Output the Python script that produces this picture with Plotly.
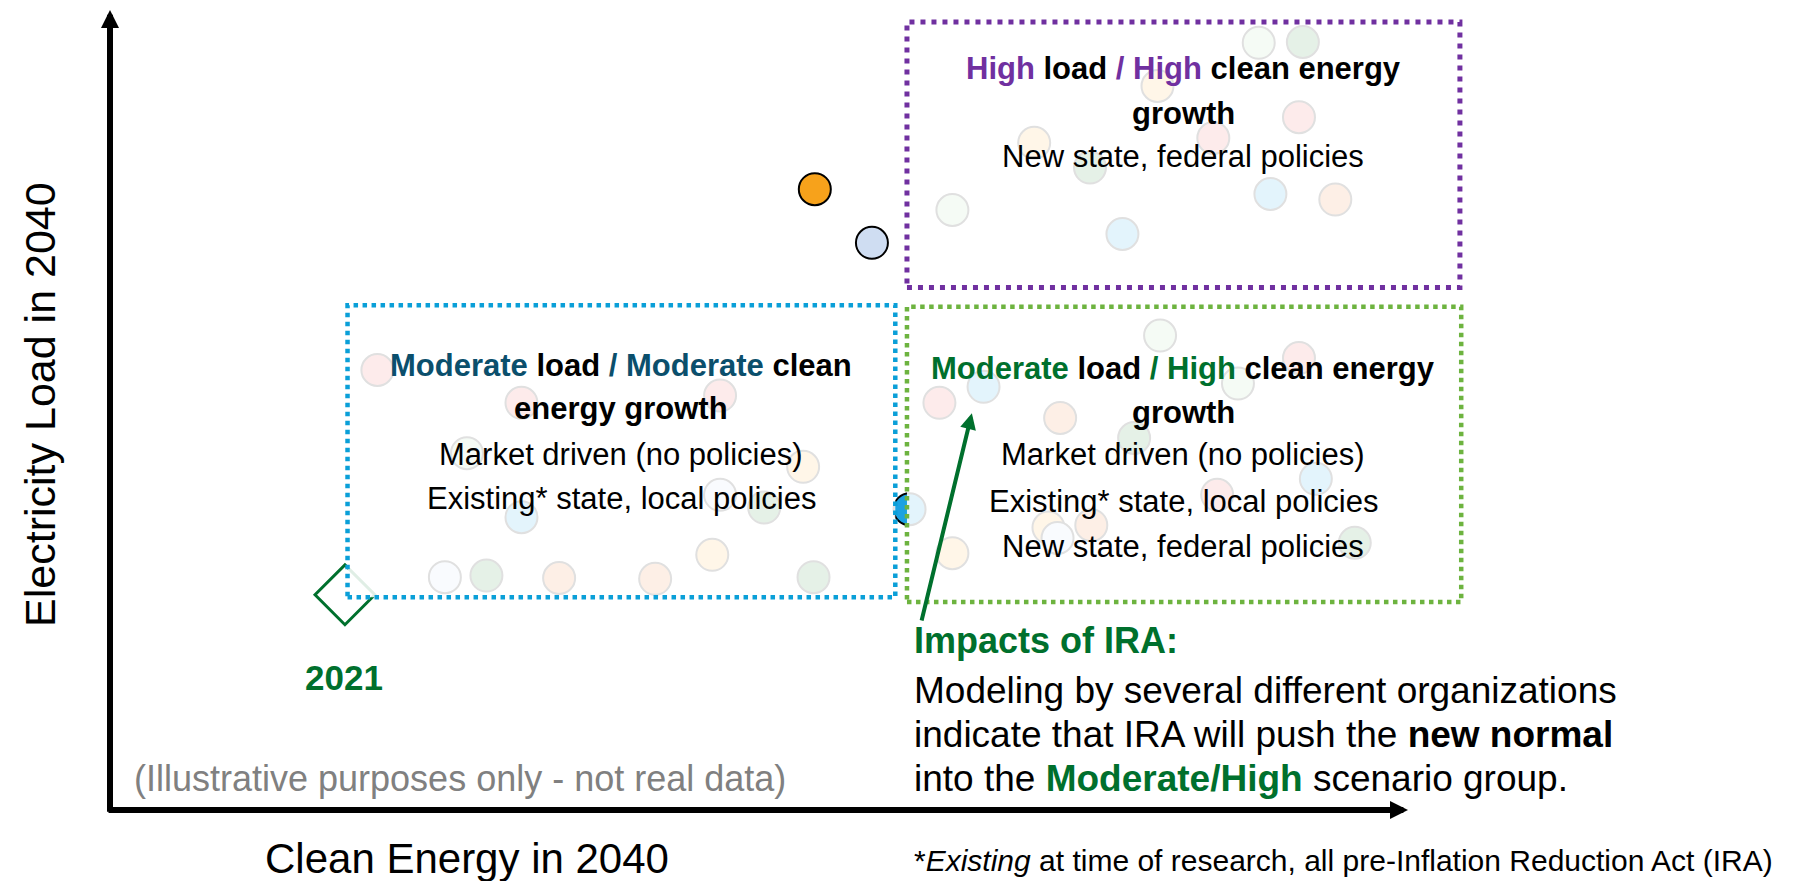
import plotly.graph_objects as go

# ---------------- data (illustrative index units: 0-100 on each axis) ----------------
# highlighted scenario points (outside the groups)
hl_x = [54.3, 58.7, 61.6]
hl_y = [77.6, 70.9, 37.6]
hl_color = ["orange", "lightblue", "blue"]

# background scenario points (faded by the group boxes)
bg_x = [88.5, 91.9, 80.7, 91.6, 85.0, 71.2, 75.5, 64.9, 89.4, 94.4, 78.0,
        80.9, 91.6, 67.3, 63.9, 86.9, 73.2, 78.9, 92.9, 85.3, 72.3, 75.6, 73.0, 64.9, 95.9,
        20.6, 31.7, 47.0, 27.5, 53.4, 31.7, 47.0, 50.4, 25.8, 29.0, 34.6, 42.0, 46.4, 54.2]
bg_y = [95.9, 96.0, 90.5, 86.6, 84.0, 83.4, 80.3, 75.0, 77.0, 76.3, 72.0,
        59.3, 56.5, 52.9, 50.9, 53.3, 49.0, 46.5, 41.4, 39.4, 35.3, 35.6, 34.0, 32.1, 33.4,
        55.0, 50.9, 51.8, 44.6, 42.9, 36.6, 39.4, 37.8, 29.1, 29.3, 29.0, 28.9, 31.9, 29.1]
bg_color = ["palegreen", "green", "gold", "red", "red", "gold", "green", "palegreen", "blue", "peach", "blue",
            "palegreen", "red", "blue", "red", "palegreen", "peach", "green", "blue", "red", "gold", "peach", "lightblue", "gold", "green",
            "red", "red", "red", "palegreen", "gold", "blue", "lightblue", "green", "lightblue", "green", "peach", "peach", "gold", "green"]

# 2021 starting point
start_x = [18.1]
start_y = [26.9]
start_label = ["2021"]

# scenario groups (boxes)
group_names = ["Moderate/Moderate", "Moderate/High", "High/High"]
group_x0 = [18.3, 61.4, 61.4]
group_x1 = [60.5, 104.1, 104.0]
group_y0 = [26.6, 26.0, 65.3]
group_y1 = [63.1, 62.9, 98.5]

# IRA shift arrow (from, to)
ira_from = (62.5, 23.5)
ira_to = (66.4, 49.6)

# ---------------- styles ----------------
PALETTE = {
    "orange": "#F7A21B", "lightblue": "#CFDDF2", "blue": "#1BA1E2", "green": "#2E8B3E",
    "palegreen": "#A9DBA9", "red": "#E85C5C", "gold": "#FBB040", "peach": "#ED7D31",
}
GROUP_STYLE = [
    dict(color="#0A9FD8", width=4.5, dash="dot"),
    dict(color="#6DB33F", width=4.5, dash="dot"),
    dict(color="#7030A0", width=5, dash="5px,6px"),
]
FONT = "Liberation Sans, Arial, sans-serif"
TEAL = "#0B4F6C"
DKGREEN = "#00702D"
PURPLE = "#7030A0"

fig = go.Figure()

fig.add_trace(go.Scatter(
    x=bg_x, y=bg_y, mode="markers", hoverinfo="skip",
    marker=dict(size=32, color=[PALETTE[c] for c in bg_color], line=dict(color="black", width=2)),
))
fig.add_trace(go.Scatter(
    x=hl_x, y=hl_y, mode="markers", hoverinfo="skip",
    marker=dict(size=32, color=[PALETTE[c] for c in hl_color], line=dict(color="black", width=2)),
))
fig.add_trace(go.Scatter(
    x=start_x, y=start_y, mode="markers", hoverinfo="skip",
    marker=dict(symbol="diamond", size=46, color="white", line=dict(color=DKGREEN, width=3)),
))

for i in range(len(group_names)):
    fig.add_shape(type="rect", xref="x", yref="y",
                  x0=group_x0[i], x1=group_x1[i], y0=group_y0[i], y1=group_y1[i],
                  fillcolor="rgba(255,255,255,0.88)", line=GROUP_STYLE[i], layer="above")

ann = []
# axes as arrows
ann.append(dict(x=0, y=100, ax=0, ay=-0.4, xref="x", yref="y", axref="x", ayref="y",
                text="", showarrow=True, arrowhead=2, arrowsize=0.6, arrowwidth=6, arrowcolor="black"))
ann.append(dict(x=100, y=0, ax=-0.23, ay=0, xref="x", yref="y", axref="x", ayref="y",
                text="", showarrow=True, arrowhead=2, arrowsize=0.6, arrowwidth=6, arrowcolor="black"))
# IRA arrow
ann.append(dict(x=ira_to[0], y=ira_to[1], ax=ira_from[0], ay=ira_from[1], xref="x", yref="y",
                axref="x", ayref="y", text="", showarrow=True, arrowhead=2, arrowsize=0.8,
                arrowwidth=4, arrowcolor=DKGREEN))

def txt(x, y, s, size=31, color="black", xanchor="center", angle=0):
    ann.append(dict(x=x, y=y, xref="x", yref="y", text=s, showarrow=False, xanchor=xanchor,
                    yanchor="middle", textangle=angle, font=dict(family=FONT, size=size, color=color)))

def c(s, col):
    return f"<span style='color:{col}'>{s}</span>"

# High / High box
txt(82.7, 92.75, "<b>" + c("High", PURPLE) + " load " + c("/ High", PURPLE) + " clean energy</b>")
txt(82.7, 87.1, "<b>growth</b>")
txt(82.7, 81.75, "New state, federal policies")
# Moderate / Moderate box
txt(39.4, 55.6, "<b>" + c("Moderate", TEAL) + " load " + c("/ Moderate", TEAL) + " clean</b>")
txt(39.4, 50.25, "<b>energy growth</b>")
txt(39.4, 44.5, "Market driven (no policies)")
txt(39.4, 39.0, "Existing* state, local policies")
# Moderate / High box
txt(82.7, 55.25, "<b>" + c("Moderate", DKGREEN) + " load " + c("/ High", DKGREEN) + " clean energy</b>")
txt(82.7, 49.75, "<b>growth</b>")
txt(82.7, 44.4, "Market driven (no policies)")
txt(82.7, 38.6, "Existing* state, local policies")
txt(82.7, 33.0, "New state, federal policies")
# 2021 label
txt(18.0, 16.6, "<b>" + start_label[0] + "</b>", size=35, color=DKGREEN)
# IRA note
txt(61.8, 21.25, "<b>Impacts of IRA:</b>", size=36, color=DKGREEN, xanchor="left")
txt(61.8, 14.9, "Modeling by several different organizations", size=37, xanchor="left")
txt(61.8, 9.5, "indicate that IRA will push the <b>new normal</b>", size=37, xanchor="left")
txt(61.8, 4.0, "into the <b>" + c("Moderate/High", DKGREEN) + "</b> scenario group.", size=37, xanchor="left")
# footnote
txt(61.8, -6.3, "*<i>Existing</i> at time of research, all pre-Inflation Reduction Act (IRA)", size=30, xanchor="left")
# illustrative note
txt(1.7, 3.9, "(Illustrative purposes only - not real data)", size=36, color="#808080", xanchor="left")
# axis titles
txt(27.5, -6.0, "Clean Energy in 2040", size=42)
txt(-5.4, 50.75, "Electricity Load in 2040", size=43, angle=-90)

W, H = 1798, 881
fig.update_layout(
    width=W, height=H, margin=dict(l=0, r=0, t=0, b=0),
    paper_bgcolor="white", plot_bgcolor="white", showlegend=False,
    annotations=ann,
    xaxis=dict(range=[-110 / 12.98, (W - 110) / 12.98], visible=False, fixedrange=True),
    yaxis=dict(range=[(810 - H) / 8.0, 810 / 8.0], visible=False, fixedrange=True),
)
fig.write_html("out.html", config={"displayModeBar": False},
               post_script="document.body.style.margin='0';document.body.style.overflow='hidden';")
